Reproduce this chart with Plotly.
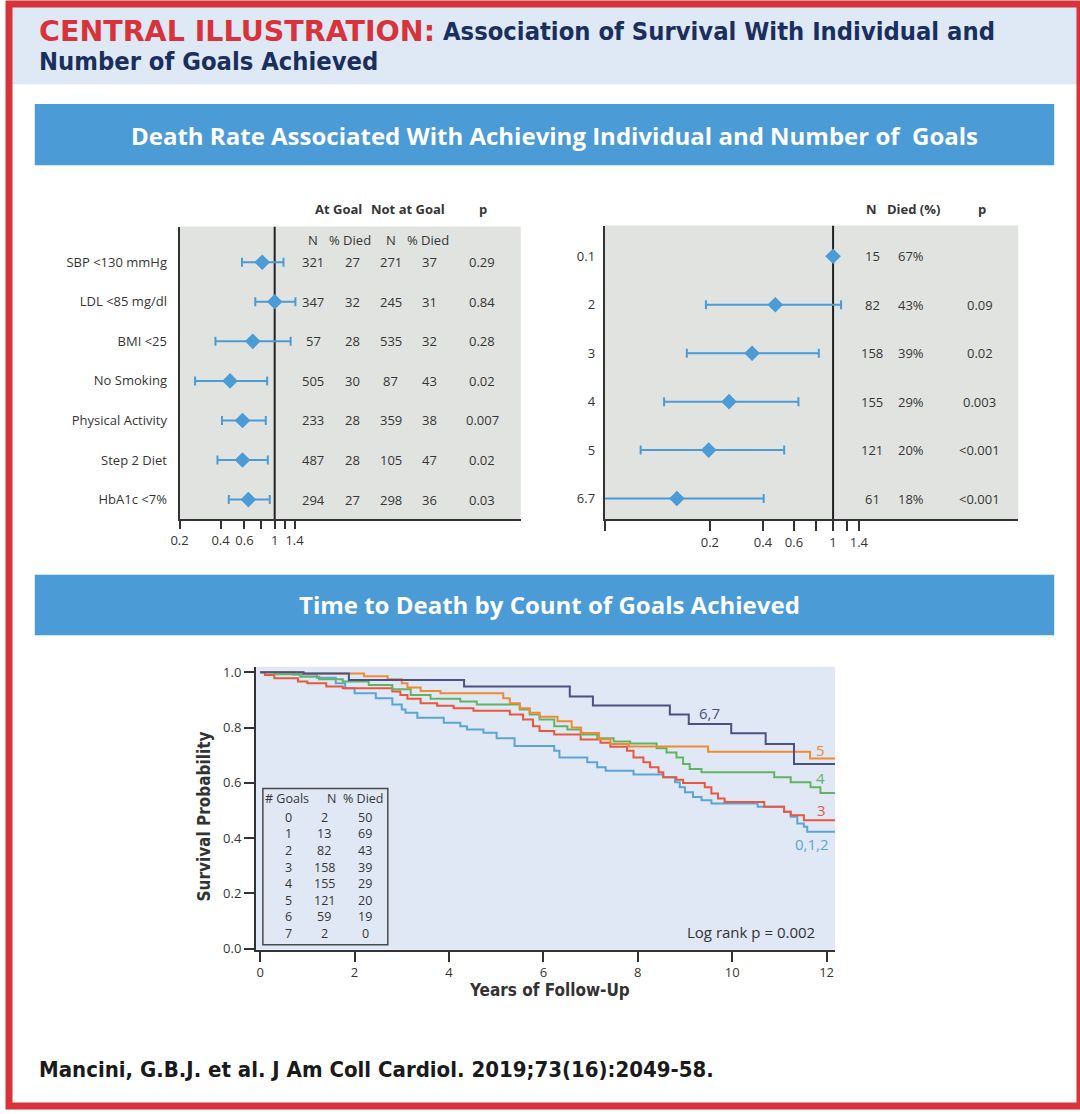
import math
import plotly.graph_objects as go

W, H = 1080, 1114
def px(x): return x / W
def py(y): return 1 - y / H

# ---------------- DATA ----------------
goal_labels = ["SBP <130 mmHg", "LDL <85 mg/dl", "BMI <25", "No Smoking",
               "Physical Activity", "Step 2 Diet", "HbA1c <7%"]
goal_hr = [0.81, 1.00, 0.69, 0.47, 0.58, 0.58, 0.64]
goal_lo = [0.575, 0.72, 0.367, 0.26, 0.41, 0.38, 0.46]
goal_hi = [1.16, 1.42, 1.31, 0.88, 0.86, 0.89, 0.92]
at_goal_n = [321, 347, 57, 505, 233, 487, 294]
at_goal_died = [27, 32, 28, 30, 28, 28, 27]
not_goal_n = [271, 245, 535, 87, 359, 105, 298]
not_goal_died = [37, 31, 32, 43, 38, 47, 36]
goal_p = ["0.29", "0.84", "0.28", "0.02", "0.007", "0.02", "0.03"]

count_labels = ["0.1", "2", "3", "4", "5", "6.7"]
count_hr = [1.0, 0.47, 0.347, 0.257, 0.197, 0.13]
count_lo = [None, 0.19, 0.148, 0.11, 0.081, 0.035]
count_hi = [None, 1.11, 0.83, 0.636, 0.528, 0.404]
count_n = [15, 82, 158, 155, 121, 61]
count_died = ["67%", "43%", "39%", "29%", "20%", "18%"]
count_p = ["", "0.09", "0.02", "0.003", "<0.001", "<0.001"]

forest_ticks = [0.2, 0.4, 0.6, 0.8, 1, 1.2, 1.4]
forest_ticktext = ["0.2", "0.4", "0.6", "", "1", "", "1.4"]

km_t67 = [0, 0.92, 1.88, 4.32, 6.56, 7.05, 8.68, 9.08, 9.98, 10.71, 11.31, 12.18]
km_s67 = [1.0, 0.995, 0.972, 0.948, 0.912, 0.88, 0.847, 0.813, 0.779, 0.74, 0.668, 0.668]

km_t5 = [0, 0.9, 2.2, 2.7, 3.0, 3.12, 3.4, 3.82, 5.15, 5.29, 5.5, 5.71, 5.92, 6.3, 6.6,
         6.8, 7.18, 7.42, 7.81, 9.49, 11.65, 12.18]
km_s5 = [1.0, 0.995, 0.985, 0.975, 0.96, 0.945, 0.932, 0.924, 0.906, 0.888, 0.87, 0.853,
         0.839, 0.823, 0.8, 0.78, 0.758, 0.74, 0.731, 0.712, 0.688, 0.688]

km_t4 = [0, 0.3, 0.85, 1.25, 1.75, 2.3, 2.8, 3.19, 3.61, 4.24, 4.59, 5.5, 5.71, 5.92, 6.23,
         6.51, 6.79, 7.14, 7.49, 7.84, 8.4, 8.61, 8.82, 8.96, 9.1, 9.35, 10.89, 11.24,
         11.66, 11.87, 12.18]
km_s4 = [1.0, 0.993, 0.984, 0.975, 0.966, 0.954, 0.938, 0.918, 0.904, 0.894, 0.883, 0.865,
         0.847, 0.829, 0.805, 0.793, 0.775, 0.761, 0.749, 0.742, 0.725, 0.71, 0.692, 0.668,
         0.65, 0.638, 0.62, 0.602, 0.584, 0.563, 0.563]

km_t3 = [0, 0.1, 0.3, 0.8, 1.0, 1.4, 1.75, 2.8, 2.97, 3.12, 3.4, 3.75, 4.1, 4.52, 5.29,
         5.57, 5.78, 5.92, 6.23, 6.79, 7.21, 7.42, 7.77, 7.91, 8.12, 8.26, 8.44, 8.54,
         8.82, 8.96, 9.42, 9.56, 9.7, 9.84, 10.68, 11.1, 11.24, 11.52, 12.18]
km_s3 = [1.0, 0.99, 0.978, 0.966, 0.96, 0.948, 0.942, 0.93, 0.918, 0.904, 0.888, 0.879,
         0.87, 0.861, 0.847, 0.829, 0.805, 0.787, 0.775, 0.757, 0.745, 0.73, 0.716, 0.692,
         0.674, 0.656, 0.638, 0.62, 0.611, 0.599, 0.584, 0.561, 0.543, 0.531, 0.513,
         0.495, 0.483, 0.465, 0.465]

km_t012 = [0, 0.7, 1.2, 1.6, 1.8, 2.0, 2.45, 2.8, 3.0, 3.08, 3.33, 3.89, 4.24, 4.38, 4.73,
           5.01, 5.39, 6.23, 6.34, 6.93, 7.14, 7.32, 7.91, 8.54, 8.79, 8.89, 9.0, 9.17,
           9.35, 9.56, 10.54, 11.1, 11.24, 11.38, 11.52, 11.59, 12.18]
km_s012 = [1.0, 0.992, 0.98, 0.96, 0.942, 0.924, 0.906, 0.883, 0.865, 0.853, 0.835, 0.817,
           0.805, 0.793, 0.781, 0.761, 0.733, 0.716, 0.692, 0.674, 0.656, 0.644, 0.63,
           0.62, 0.602, 0.584, 0.566, 0.549, 0.537, 0.525, 0.513, 0.495, 0.477, 0.453,
           0.441, 0.423, 0.423]

km_goals = ["0", "1", "2", "3", "4", "5", "6", "7"]
km_n = [2, 13, 82, 158, 155, 121, 59, 2]
km_died = [50, 69, 43, 39, 29, 20, 19, 0]

# ---------------- STYLE ----------------
RED = "#d8333b"
NAVY = "#1b2f5e"
BANNER = "#4a9bd6"
HEADBG = "#dfe8f5"
PANEL = "#e1e3e0"
KMBG = "#e0e8f5"
PT = "#4a9bd6"
TXT = "#363636"
LAB = "Open Sans, Noto Sans, sans-serif"
COND = "DejaVu Sans Condensed, Liberation Sans Narrow, sans-serif"
C_67, C_5, C_4, C_3, C_012 = "#4b5180", "#f08a34", "#62b463", "#e9573f", "#5aa5d4"

fig = go.Figure()

# ---- left forest ----
fig.add_trace(go.Scatter(x=[1, 1], y=[6.5, -0.9], mode="lines",
                         line=dict(color="#222", width=2), xaxis="x", yaxis="y",
                         hoverinfo="skip"))
fig.add_trace(go.Scatter(
    x=goal_hr, y=list(range(len(goal_hr))), mode="markers",
    marker=dict(symbol="diamond", size=12, color=PT),
    error_x=dict(type="data", symmetric=False,
                 array=[h - m for h, m in zip(goal_hi, goal_hr)],
                 arrayminus=[m - l for m, l in zip(goal_hr, goal_lo)],
                 color=PT, thickness=2, width=4.5),
    xaxis="x", yaxis="y"))

# ---- right forest ----
fig.add_trace(go.Scatter(x=[1, 1], y=[5.43, -0.633], mode="lines",
                         line=dict(color="#222", width=2), xaxis="x2", yaxis="y2",
                         hoverinfo="skip"))
fig.add_trace(go.Scatter(
    x=count_hr, y=list(range(len(count_hr))), mode="markers",
    marker=dict(symbol="diamond", size=12, color=PT),
    error_x=dict(type="data", symmetric=False,
                 array=[(h - m) if h is not None else None for h, m in zip(count_hi, count_hr)],
                 arrayminus=[(m - l) if l is not None else None for m, l in zip(count_hr, count_lo)],
                 color=PT, thickness=2, width=4.5),
    xaxis="x2", yaxis="y2"))

# ---- KM ----
for t, s, c in [(km_t012, km_s012, C_012), (km_t3, km_s3, C_3), (km_t4, km_s4, C_4),
                (km_t5, km_s5, C_5), (km_t67, km_s67, C_67)]:
    fig.add_trace(go.Scatter(x=t, y=s, mode="lines", line=dict(color=c, width=2, shape="hv"),
                             xaxis="x3", yaxis="y3"))

# ---------------- AXES ----------------
l_lo = math.log10(0.2)
l_hi = l_lo + (516 - 172) / (59.6 * math.log(10))
r_lo = -(831 - 600.7) / (77.2 * math.log(10))
r_hi = r_lo + (1017.7 - 600.7) / (77.2 * math.log(10))

axis_common = dict(showgrid=False, zeroline=False, showline=True, linecolor="#333",
                   linewidth=2, tickfont=dict(family=LAB, size=13, color=TXT))

fig.update_layout(
    xaxis=dict(axis_common, domain=[px(172), px(516)], type="log", range=[l_lo, l_hi],
               tickvals=forest_ticks, ticktext=forest_ticktext, ticks="outside",
               ticklen=8, tickwidth=1.5, tickcolor="#333", anchor="y"),
    yaxis=dict(axis_common, domain=[py(521), py(225)], range=[6.5, -0.9],
               tickvals=list(range(len(goal_labels))), ticktext=goal_labels,
               ticks="outside", ticklen=8, tickcolor="rgba(0,0,0,0)", anchor="x"),
    xaxis2=dict(axis_common, domain=[px(600.7), px(1017.7)], type="log", range=[r_lo, r_hi],
                tickvals=[10 ** r_lo] + forest_ticks, ticktext=[""] + forest_ticktext,
                ticks="outside", ticklen=10, tickwidth=1.5, tickcolor="#333", anchor="y2"),
    yaxis2=dict(axis_common, domain=[py(521), py(224)], range=[5.43, -0.633],
                tickvals=list(range(len(count_labels))), ticktext=count_labels,
                ticks="outside", ticklen=5, tickcolor="rgba(0,0,0,0)", anchor="x2"),
    xaxis3=dict(axis_common, domain=[px(249), px(833)], range=[-0.09, 12.18],
                tickvals=[0, 2, 4, 6, 8, 10, 12], ticks="outside", ticklen=10,
                tickwidth=1.5, tickcolor="#333", anchor="y3"),
    yaxis3=dict(axis_common, domain=[py(956), py(670)],
                range=[(955 - 956) / 279.5, (955 - 670) / 279.5],
                tickvals=[0, 0.2, 0.4, 0.6, 0.8, 1.0],
                ticktext=["0.0", "0.2", "0.4", "0.6", "0.8", "1.0"],
                ticks="outside", ticklen=10, tickwidth=1.5, tickcolor="#333", anchor="x3"),
)

# ---------------- SHAPES ----------------
shapes = [
    dict(type="rect", xref="paper", yref="paper", x0=0, x1=1, y0=py(81), y1=1,
         fillcolor=HEADBG, line=dict(width=0), layer="below"),
    dict(type="rect", xref="paper", yref="paper", x0=px(26), x1=px(1054), y0=py(163),
         y1=py(101), fillcolor=BANNER, line=dict(width=0), layer="below"),
    dict(type="rect", xref="paper", yref="paper", x0=px(26), x1=px(1054), y0=py(638),
         y1=py(577), fillcolor=BANNER, line=dict(width=0), layer="below"),
    dict(type="rect", xref="x domain", yref="y domain", x0=0, x1=1, y0=0, y1=1,
         fillcolor=PANEL, line=dict(width=0), layer="below"),
    dict(type="rect", xref="x2 domain", yref="y2 domain", x0=0, x1=1, y0=0, y1=1,
         fillcolor=PANEL, line=dict(width=0), layer="below"),
    dict(type="rect", xref="x3 domain", yref="y3 domain", x0=0, x1=1, y0=0, y1=1,
         fillcolor=KMBG, line=dict(width=0), layer="below"),
    dict(type="rect", xref="paper", yref="paper", x0=px(256), x1=px(382), y0=py(951),
         y1=py(793), fillcolor=KMBG, line=dict(color="#4a4a4a", width=1.5)),
    dict(type="rect", xref="paper", yref="paper", x0=0, x1=1, y0=0, y1=1,
         line=dict(color=RED, width=7), fillcolor="rgba(0,0,0,0)"),
]
fig.update_layout(shapes=shapes)

# ---------------- ANNOTATIONS ----------------
ann = []
def A(text, x, y, size=13, color=TXT, family=LAB, xanchor="center", xref="paper",
      yref="paper", bold=False, **kw):
    ann.append(dict(text=f"<b>{text}</b>" if bold else text, x=x, y=y, xref=xref, yref=yref,
                    xanchor=xanchor, yanchor="middle", showarrow=False,
                    font=dict(size=size, color=color, family=family), **kw))

# header
A("CENTRAL ILLUSTRATION:", px(28), py(28), size=28.5, color=RED,
  family="DejaVu Sans, sans-serif", xanchor="left", bold=True)
A("Association of Survival With Individual and", px(436), py(28), size=25.3, color=NAVY,
  family=COND, xanchor="left", bold=True)
A("Number of Goals Achieved", px(28), py(58), size=25.3, color=NAVY, family=COND,
  xanchor="left", bold=True)
# banners
A("Death Rate Associated With Achieving Individual and Number of  Goals", px(550), py(133),
  size=24, color="white", bold=True)
A("Time to Death by Count of Goals Achieved", px(545), py(607), size=24, color="white",
  bold=True)
# footer
A("Mancini, G.B.J. et al. J Am Coll Cardiol. 2019;73(16):2049-58.", px(28), py(1077),
  size=22, color="#1a1a1a", family=COND, xanchor="left", bold=True)

# left table
A("At Goal", px(332), py(207), bold=True)
A("Not at Goal", px(402), py(207), bold=True)
A("p", px(478), py(207), bold=True)
for txt, x in [("N", 306.7), ("% Died", 344), ("N", 385), ("% Died", 423)]:
    A(txt, px(x), py(239))
for i in range(len(goal_labels)):
    for val, x in [(at_goal_n[i], 306.7), (at_goal_died[i], 346.7), (not_goal_n[i], 385),
                   (not_goal_died[i], 424), (goal_p[i], 477)]:
        A(str(val), px(x), i, yref="y")

# right table
A("N", px(870), py(207), bold=True)
A("Died (%)", px(911.7), py(207), bold=True)
A("p", px(980.7), py(207), bold=True)
for i in range(len(count_labels)):
    for val, x in [(count_n[i], 870.7), (count_died[i], 910), (count_p[i], 979)]:
        if val != "":
            A(str(val), px(x), i, yref="y2")

# KM legend table
A("# Goals", px(280), py(803), size=12.5)
A("N", px(325.7), py(803), size=12.5)
A("% Died", px(357), py(803), size=12.5)
for k in range(len(km_goals)):
    yy = py(822.3 + 16.7 * k)
    A(km_goals[k], px(282), yy, size=12.5)
    A(str(km_n[k]), px(318), yy, size=12.5)
    A(str(km_died[k]), px(359), yy, size=12.5)

# KM curve labels
A("6,7", 9.53, 0.853, size=15, color=C_67, xref="x3", yref="y3")
A("5", 11.88, 0.72, size=15, color=C_5, xref="x3", yref="y3")
A("4", 11.88, 0.616, size=15, color=C_4, xref="x3", yref="y3")
A("3", 11.9, 0.501, size=15, color=C_3, xref="x3", yref="y3")
A("0,1,2", 11.7, 0.379, size=15, color=C_012, xref="x3", yref="y3")
A("Log rank p = 0.002", 10.4, 0.061, size=15, color="#333", xref="x3", yref="y3")

# KM axis titles
A("Survival Probability", px(197), py(821), size=17, color="#333", family=COND, bold=True,
  textangle=-90)
A("Years of Follow-Up", px(545), py(997), size=17, color="#333", family=COND, bold=True)

fig.update_layout(
    annotations=ann,
    autosize=True, margin=dict(l=0, r=0, t=0, b=0),
    paper_bgcolor="white", plot_bgcolor="rgba(0,0,0,0)",
    showlegend=False,
)

fig.write_html("out.html",
               default_width="100vw", default_height="100vh",
               config={"displayModeBar": False, "responsive": True},
               post_script="document.body.style.margin='0';document.body.style.overflow='hidden';")
